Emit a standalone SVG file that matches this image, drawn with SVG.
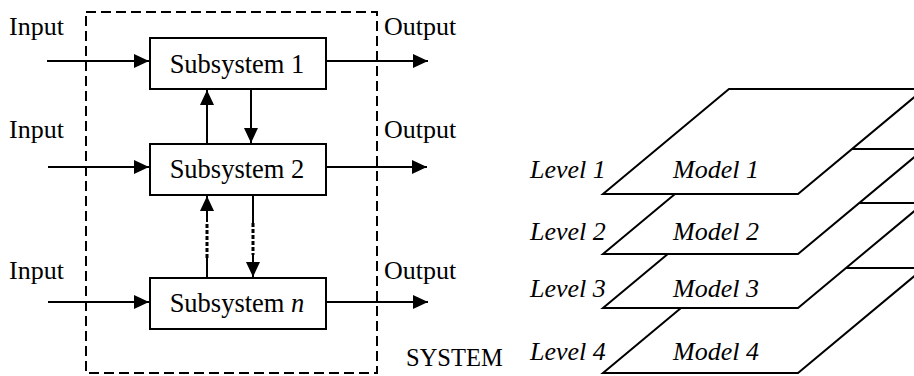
<svg xmlns="http://www.w3.org/2000/svg" width="914" height="376" viewBox="0 0 914 376">
<style>
  text { font-family: "Liberation Serif", "Times New Roman", serif; fill: #000; }
  .lbl { font-size: 26px; }
  .sub { font-size: 26.5px; }
  .it { font-style: italic; }
  .box { fill: #fff; stroke: #000; stroke-width: 2; }
  .ln { stroke: #000; stroke-width: 2; fill: none; }
  .dot { stroke: #000; stroke-width: 3; stroke-dasharray: 4 2; fill: none; }
  .dash { stroke: #000; stroke-width: 2; stroke-dasharray: 10 5; fill: none; }
  .plane { fill: #fff; stroke: #000; stroke-width: 2; stroke-linejoin: miter; }
</style>
<defs>
  <marker id="ah" markerUnits="userSpaceOnUse" markerWidth="16" markerHeight="14" refX="15" refY="7" orient="auto">
    <path d="M0,0 L15,7 L0,14 Z" fill="#000"/>
  </marker>
</defs>

<g id="system-boundary">
  <rect class="dash" x="86" y="12" width="291" height="361"/>
  <text x="406" y="366" style="font-size:24.5px">SYSTEM</text>
</g>

<g id="connectors">
  <line class="ln" x1="47" y1="61" x2="149" y2="61" marker-end="url(#ah)"/>
  <line class="ln" x1="48" y1="167" x2="149" y2="167" marker-end="url(#ah)"/>
  <line class="ln" x1="48" y1="302" x2="149" y2="302" marker-end="url(#ah)"/>
  <line class="ln" x1="326" y1="61" x2="428" y2="61" marker-end="url(#ah)"/>
  <line class="ln" x1="326" y1="167" x2="427" y2="167" marker-end="url(#ah)"/>
  <line class="ln" x1="326" y1="302" x2="428" y2="302" marker-end="url(#ah)"/>
  <line class="ln" x1="207" y1="144" x2="207" y2="90" marker-end="url(#ah)"/>
  <line class="ln" x1="251" y1="89" x2="251" y2="143" marker-end="url(#ah)"/>
  <line class="ln" x1="207" y1="278" x2="207" y2="258"/>
  <line class="dot" x1="207" y1="258" x2="207" y2="222"/>
  <line class="ln" x1="207" y1="222" x2="207" y2="196" marker-end="url(#ah)"/>
  <line class="ln" x1="253" y1="195" x2="253" y2="223"/>
  <line class="dot" x1="253" y1="223" x2="253" y2="255"/>
  <line class="ln" x1="253" y1="255" x2="253" y2="277" marker-end="url(#ah)"/>
</g>

<g id="labels-io">
  <text class="lbl" x="9" y="35">Input</text>
  <text class="lbl" x="9" y="138">Input</text>
  <text class="lbl" x="9" y="279">Input</text>
  <text class="lbl" x="384" y="35">Output</text>
  <text class="lbl" x="384" y="138">Output</text>
  <text class="lbl" x="384" y="279">Output</text>
</g>

<g id="subsystem-1">
  <rect class="box" x="150" y="38" width="176" height="51"/>
  <text class="sub" x="237" y="73" text-anchor="middle">Subsystem 1</text>
</g>
<g id="subsystem-2">
  <rect class="box" x="150" y="144" width="176" height="51"/>
  <text class="sub" x="237" y="178" text-anchor="middle">Subsystem 2</text>
</g>
<g id="subsystem-n">
  <rect class="box" x="150" y="278" width="176" height="51"/>
  <text class="sub" x="237" y="312" text-anchor="middle">Subsystem <tspan class="it">n</tspan></text>
</g>

<g id="level-4">
  <polygon class="plane" points="603,373 798,373 924,268 729,268"/>
  <text class="lbl it" x="530" y="360">Level 4</text>
  <text class="lbl it" x="673" y="360">Model 4</text>
</g>
<g id="level-3">
  <polygon class="plane" points="603,308 798,308 924,203 729,203"/>
  <text class="lbl it" x="530" y="297">Level 3</text>
  <text class="lbl it" x="673" y="297">Model 3</text>
</g>
<g id="level-2">
  <polygon class="plane" points="603,254 798,254 924,149 729,149"/>
  <text class="lbl it" x="530" y="240">Level 2</text>
  <text class="lbl it" x="673" y="240">Model 2</text>
</g>
<g id="level-1">
  <polygon class="plane" points="603,194 798,194 924,89 729,89"/>
  <text class="lbl it" x="530" y="178">Level 1</text>
  <text class="lbl it" x="673" y="178">Model 1</text>
</g>
</svg>
